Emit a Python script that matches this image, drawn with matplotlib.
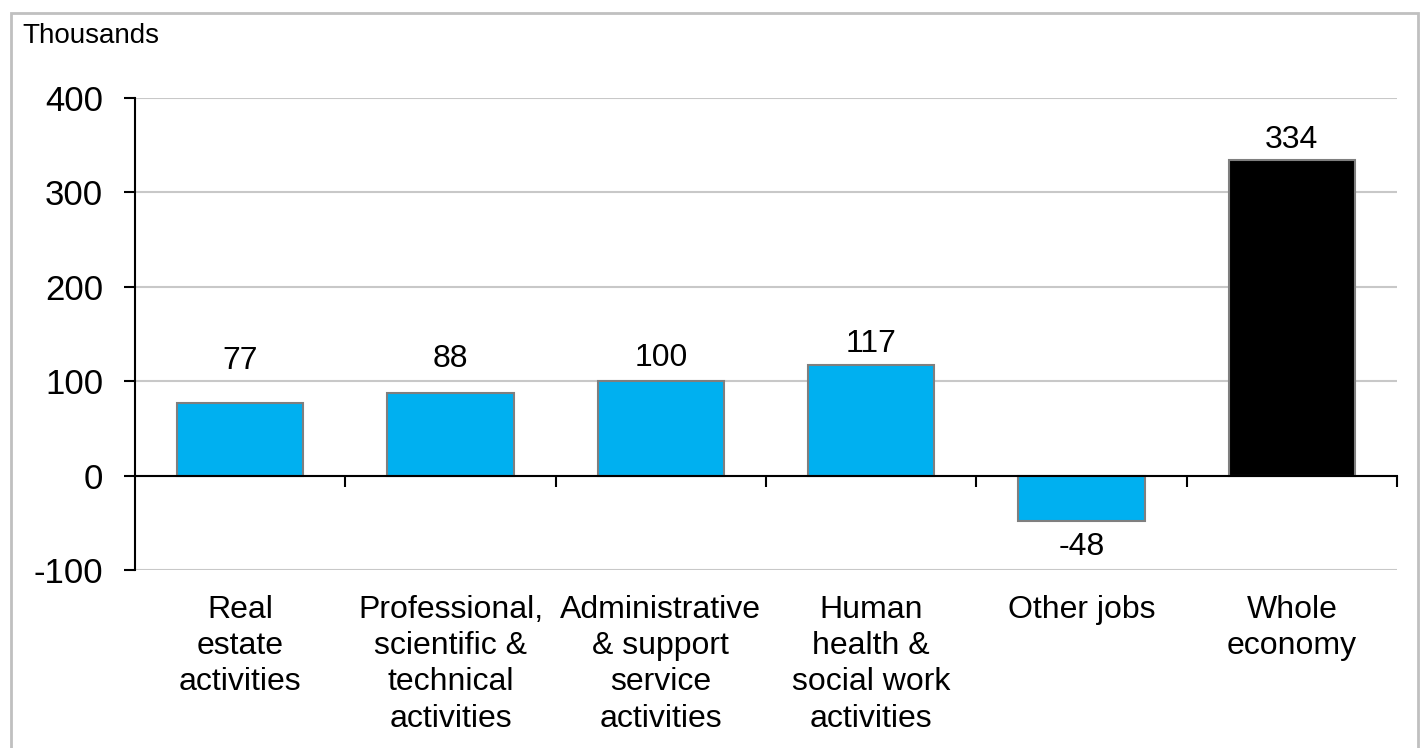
import matplotlib
matplotlib.use("Agg")
import matplotlib.pyplot as plt
from matplotlib.patches import Rectangle
from matplotlib.transforms import blended_transform_factory

categories = [
    "Real\nestate\nactivities",
    "Professional,\nscientific &\ntechnical\nactivities",
    "Administrative\n& support\nservice\nactivities",
    "Human\nhealth &\nsocial work\nactivities",
    "Other jobs",
    "Whole\neconomy",
]
values = [77, 88, 100, 117, -48, 334]
bar_colors = ["#00b0f0"] * 5 + ["#000000"]
yticks = [-100, 0, 100, 200, 300, 400]

# where each value label sits relative to its bar end (data units)
label_offsets = [44, 35, 25, 22, -28, 22]

plt.rcParams["font.family"] = ["Liberation Sans", "DejaVu Sans"]

fig = plt.figure(figsize=(14.22, 7.48), dpi=100)
ax = fig.add_axes([0.0949, 0.238, 0.8875, 0.631])

x = list(range(len(categories)))
ax.bar(x, values, width=0.6, color=bar_colors, edgecolor="#7f7f7f",
       linewidth=1.5, zorder=2)

ax.set_xlim(-0.5, len(categories) - 0.5)
ax.set_ylim(-100, 400)
ax.set_yticks(yticks)
ax.set_yticklabels([str(v) for v in yticks], fontsize=25)
ax.tick_params(axis="y", direction="out", length=8, width=1.5, pad=15)
ax.yaxis.grid(True, color="#c8c8c8", linewidth=1.5, zorder=0)
ax.set_axisbelow(True)

for s in ["top", "right"]:
    ax.spines[s].set_visible(False)
ax.spines["left"].set_linewidth(1.5)
ax.spines["bottom"].set_position(("data", 0))
ax.spines["bottom"].set_linewidth(1.5)
ax.spines["bottom"].set_zorder(3)

# ticks at category boundaries on the zero line
ax.set_xticks([i + 0.5 for i in x])
ax.set_xticklabels([])
ax.tick_params(axis="x", direction="out", length=8, width=1.5)

# category labels below the plot area
trans = blended_transform_factory(ax.transData, ax.transAxes)
for i, lab in zip(x, categories):
    ax.text(i, -0.052, lab, transform=trans, ha="center", va="top",
            fontsize=23, linespacing=1.28)

# value labels
for i, v, off in zip(x, values, label_offsets):
    ax.text(i, v + off, str(v), ha="center", va="center", fontsize=23)

fig.text(0.016, 0.952, "Thousands", ha="left", va="center", fontsize=20)

fig.patches.append(Rectangle((0.008, -0.01), 0.989, 0.993,
                             transform=fig.transFigure, fill=False,
                             edgecolor="#c0c0c0", linewidth=2))

fig.savefig("out.png", dpi=100)
